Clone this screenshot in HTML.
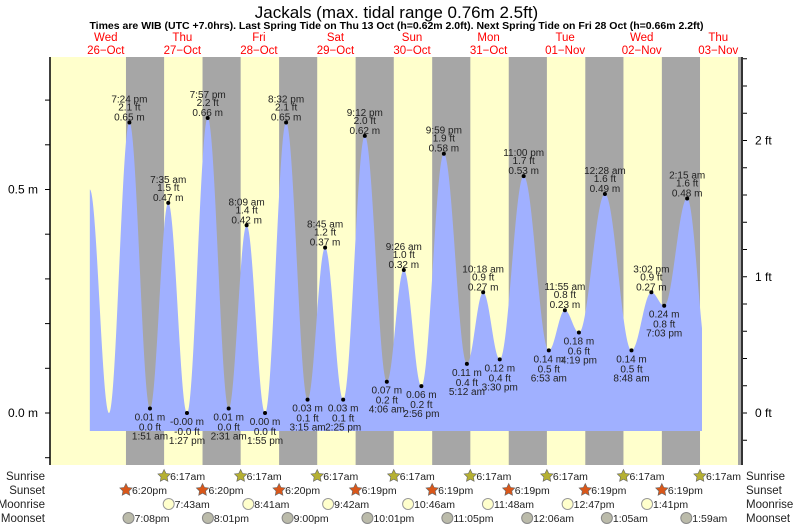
<!DOCTYPE html>
<html><head><meta charset="utf-8"><style>
body{margin:0;background:#fff;}
svg{display:block;font-family:"Liberation Sans",sans-serif;}
</style></head><body>
<svg id="chart" width="793" height="525" xmlns="http://www.w3.org/2000/svg"></svg>
<script>
// ---- data ----
const dayNames = ["Wed","Thu","Fri","Sat","Sun","Mon","Tue","Wed","Thu"];
const dayDates = ["26-Oct","27-Oct","28-Oct","29-Oct","30-Oct","31-Oct","01-Nov","02-Nov","03-Nov"];
// tide extremes: hours since Wed 26-Oct 00:00, height (m), label
const tideHours = [7.0,13.0,19.4,25.85,31.58,37.45,43.95,50.52,56.15,61.92,68.53,75.25,80.75,86.42,93.2,100.1,105.43,110.93,117.98,125.2,130.3,135.5,143.0,150.88,155.92,160.32,168.47,176.8,183.03,187.05,194.25,200.8];
const tideHeights = [0.50,0.00,0.65,0.01,0.47,-0.00,0.66,0.01,0.42,0.00,0.65,0.03,0.37,0.03,0.62,0.07,0.32,0.06,0.58,0.11,0.27,0.12,0.53,0.14,0.23,0.18,0.49,0.14,0.27,0.24,0.48,0.12];
const tideTimes = ["","","7:24 pm","1:51 am","7:35 am","1:27 pm","7:57 pm","2:31 am","8:09 am","1:55 pm","8:32 pm","3:15 am","8:45 am","2:25 pm","9:12 pm","4:06 am","9:26 am","2:56 pm","9:59 pm","5:12 am","10:18 am","3:30 pm","11:00 pm","6:53 am","11:55 am","4:19 pm","12:28 am","8:48 am","3:02 pm","7:03 pm","2:15 am",""];
const tideFt = ["","","2.1","0.0","1.5","-0.0","2.2","0.0","1.4","0.0","2.1","0.1","1.2","0.1","2.0","0.2","1.0","0.2","1.9","0.4","0.9","0.4","1.7","0.5","0.8","0.6","1.6","0.5","0.9","0.8","1.6",""];
const tideM = ["","","0.65","0.01","0.47","-0.00","0.66","0.01","0.42","0.00","0.65","0.03","0.37","0.03","0.62","0.07","0.32","0.06","0.58","0.11","0.27","0.12","0.53","0.14","0.23","0.18","0.49","0.14","0.27","0.24","0.48",""];
const tideStart = 7.0, tideEnd = 198.9;
// sun / moon (hours since Oct 26 00:00)
const sunsetHours = [18.33,42.33,66.33,90.32,114.32,138.32,162.32,186.32];
const sunsetLabels = ["6:20pm","6:20pm","6:20pm","6:19pm","6:19pm","6:19pm","6:19pm","6:19pm"];
const sunriseHours = [30.28,54.28,78.28,102.28,126.28,150.28,174.28,198.28];
const sunriseLabels = ["6:17am","6:17am","6:17am","6:17am","6:17am","6:17am","6:17am","6:17am"];
const moonriseHours = [31.72,56.68,81.7,106.77,131.8,156.78,181.68];
const moonriseLabels = ["7:43am","8:41am","9:42am","10:46am","11:48am","12:47pm","1:41pm"];
const moonsetHours = [19.13,44.02,69.0,94.02,119.08,144.1,169.08,193.98];
const moonsetLabels = ["7:08pm","8:01pm","9:00pm","10:01pm","11:05pm","12:06am","1:05am","1:59am"];
const mTicks = [0.0,0.5];
const ftTicks = [0,1,2];

// ---- scales ----
const X0=67.5, PXH=3.19, Y0=413, PXM=447, TOP=57, BOT=465, LEFT=50, RIGHT=741;
const x = h => X0 + h*PXH;
const y = m => Y0 - m*PXM;
const NS="http://www.w3.org/2000/svg";
const svg=document.getElementById('chart');
function el(tag, attrs, parent){const e=document.createElementNS(NS,tag);for(const k in attrs)e.setAttribute(k,attrs[k]);(parent||svg).appendChild(e);return e;}
function txt(s, attrs, parent){const e=el('text',attrs,parent);e.textContent=s;return e;}

// background
const bg=el('rect',{x:LEFT,y:TOP,width:RIGHT-LEFT-3,height:BOT-TOP,fill:'#ffffcc'});


el('rect',{x:RIGHT-3,y:TOP,width:3,height:BOT-TOP,fill:'#a6a6a6'});
// nights
for(let i=0;i<sunsetHours.length;i++){
  const x1=x(sunsetHours[i]), x2=Math.min(x(sunriseHours[i]),RIGHT-3);
  const r=el('rect',{x:x1,y:TOP,width:x2-x1,height:BOT-TOP,fill:'#a6a6a6'});
  
  
}
// tide curve
function tideAt(h){
  for(let i=0;i<tideHours.length-1;i++){
    if(h>=tideHours[i]&&h<=tideHours[i+1]){
      const f=(h-tideHours[i])/(tideHours[i+1]-tideHours[i]);
      const a=tideHeights[i],b=tideHeights[i+1];
      return a+(b-a)*(1-Math.cos(Math.PI*f))/2;
    }
  }
  return tideHeights[tideHeights.length-1];
}
const floorY=431;
let d=`M${x(tideStart)},${floorY}`;
for(let h=tideStart;h<=tideEnd;h+=0.1){d+=` L${x(h).toFixed(2)},${y(tideAt(h)).toFixed(2)}`;}
d+=` L${x(tideEnd)},${y(tideAt(tideEnd))} L${x(tideEnd)},${floorY} Z`;
const area=el('path',{d:d,fill:'#a0b0ff'});



// extreme labels
for(let i=0;i<tideHours.length;i++){
  if(!tideTimes[i])continue;
  const cx=x(tideHours[i]), cy=y(tideHeights[i]);
  const isHigh = (i>0 && tideHeights[i]>tideHeights[i-1]);
  const g=el('g',{'font-size':'10','fill':'#222','text-anchor':'middle'});
  
  
  el('circle',{cx:cx,cy:cy,r:2,fill:'#000'},g);
  if(isHigh){
    txt(tideTimes[i],{x:cx,y:cy-20},g);
    txt(tideFt[i]+' ft',{x:cx,y:cy-12},g);
    txt(tideM[i]+' m',{x:cx,y:cy-2},g);
  } else {
    txt(tideM[i]+' m',{x:cx,y:cy+12},g);
    txt(tideFt[i]+' ft',{x:cx,y:cy+22},g);
    txt(tideTimes[i],{x:cx,y:cy+31},g);
  }
}

// axes
el('line',{x1:LEFT,y1:TOP,x2:LEFT,y2:BOT,stroke:'#000','stroke-width':1.5});
el('line',{x1:RIGHT+1,y1:TOP,x2:RIGHT+1,y2:BOT,stroke:'#333','stroke-width':2});
for(let m=-0.1;m<=0.8;m+=0.1){const yy=y(m);if(yy<TOP||yy>BOT)continue;el('line',{x1:LEFT-5,y1:yy,x2:LEFT,y2:yy,stroke:'#000'});}
for(let f=-0.4;f<=2.6;f+=0.2){const yy=y(f*0.3048);if(yy<TOP||yy>BOT)continue;el('line',{x1:RIGHT+2,y1:yy,x2:RIGHT+6,y2:yy,stroke:'#000'});}
mTicks.forEach(m=>{const t=txt(m.toFixed(1)+' m',{x:38,y:y(m)+4,'font-size':'12','text-anchor':'end'});
  
  });
ftTicks.forEach(f=>{const t=txt(f+' ft',{x:755,y:y(f*0.3048)+4,'font-size':'12'});
  
  });

// titles
const ti=txt('Jackals (max. tidal range 0.76m 2.5ft)',{x:396.5,y:18,'font-size':'17','text-anchor':'middle'});


const st=txt('Times are WIB (UTC +7.0hrs). Last Spring Tide on Thu 13 Oct (h=0.62m 2.0ft). Next Spring Tide on Fri 28 Oct (h=0.66m 2.2ft)',{x:396.5,y:29,'font-size':'10.5','font-weight':'bold','text-anchor':'middle'});


for(let i=0;i<dayNames.length;i++){
  const cx=x(24*i+12);
  const g=el('g',{'font-size':'11.5',fill:'#ff0000','text-anchor':'middle'});
  
  
  txt(dayNames[i],{x:cx,y:41},g);
  txt(dayDates[i].replace('-','\u2212'),{x:cx,y:54},g);
}

// bottom rows
const rows=[["Sunrise",476],["Sunset",490],["Moonrise",504],["Moonset",518]];
rows.forEach(r=>{
  const a=txt(r[0],{x:45,y:r[1]+4,'font-size':'11.5','text-anchor':'end',fill:'#222'});
  
  
  const b=txt(r[0],{x:746,y:r[1]+4,'font-size':'11.5',fill:'#222'});
  
  
});
function star(cx,cy,fill){
  let p='';for(let k=0;k<10;k++){const rr=k%2?3.2:6.5;const a=-Math.PI/2+k*Math.PI/5;p+=(cx+rr*Math.cos(a)).toFixed(2)+','+(cy+rr*Math.sin(a)).toFixed(2)+' ';}
  return el('polygon',{points:p,fill:fill,stroke:'#666','stroke-width':0.6});
}
function addEvents(hours,labels,rowY,kind){
  for(let i=0;i<hours.length;i++){
    const cx=x(hours[i]);
    let icon;
    if(kind==='sunrise') icon=star(cx,rowY,'#b5b033');
    else if(kind==='sunset') icon=star(cx,rowY,'#d9571a');
    else if(kind==='moonrise') icon=el('circle',{cx:cx,cy:rowY,r:5.5,fill:'#ffffcc',stroke:'#999'});
    else icon=el('circle',{cx:cx,cy:rowY,r:5.5,fill:'#bbbbaa',stroke:'#888'});
    
    
    const t=txt(labels[i],{x:cx+6,y:rowY+4,'font-size':'10.5',fill:'#222'});
    
    
  }
}
addEvents(sunriseHours,sunriseLabels,476,'sunrise');
addEvents(sunsetHours,sunsetLabels,490,'sunset');
addEvents(moonriseHours,moonriseLabels,504,'moonrise');
addEvents(moonsetHours,moonsetLabels,518,'moonset');
</script>
</body></html>
